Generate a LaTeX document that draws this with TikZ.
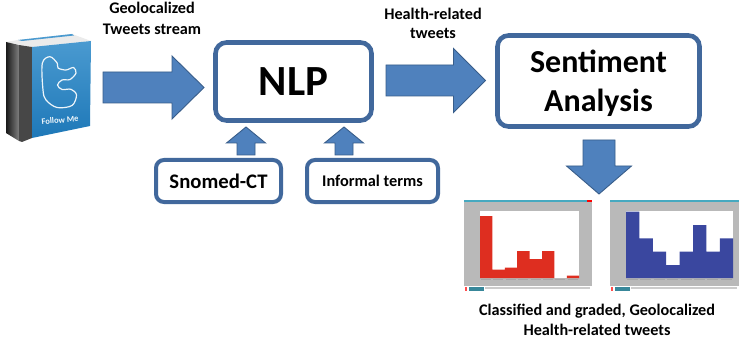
\documentclass[tikz,border=0pt]{standalone}
\usepackage{fontspec}
\setmainfont{Carlito}
\usetikzlibrary{calc}
\definecolor{arrowfill}{HTML}{4F81BD}
\definecolor{arrowedge}{HTML}{385D8A}
\definecolor{boxedge}{HTML}{41689C}
\definecolor{winGrey}{HTML}{B9B9B9}
\definecolor{winTeal}{HTML}{46A9C0}
\definecolor{barRed}{HTML}{DE2E20}
\definecolor{barBlue}{HTML}{3A479F}
\definecolor{coverLight}{HTML}{4A9AD0}
\definecolor{coverDark}{HTML}{1E78B8}
\tikzset{
  bigbox/.style={draw=boxedge,line width=4.6pt,fill=white,rounded corners=11pt,inner sep=0pt,outer sep=0pt,align=center},
  smallbox/.style={draw=boxedge,line width=4pt,fill=white,rounded corners=8pt,inner sep=0pt,outer sep=0pt,align=center},
  caption/.style={inner sep=0pt,anchor=base,font=\fontsize{16.2}{16.2}\selectfont\bfseries},
  blockarrow/.style={fill=arrowfill,draw=arrowedge,line width=0.9pt,line join=miter},
  anchorbox/.style={inner sep=0pt,outer sep=0pt},
  tickmark/.style={black!35,line width=0.8pt}
}
% start, tip, half shaft, head length, half head
\newcommand{\blockarrow}[5]{%
  \coordinate (hb) at ($(#2)!#4pt!(#1)$);
  \draw[blockarrow]
    ($(#1)!#3pt!90:(#2)$) -- ($(hb)!#3pt!-90:(#1)$) -- ($(hb)!#5pt!-90:(#1)$) -- (#2)
    -- ($(hb)!#5pt!90:(#1)$) -- ($(hb)!#3pt!90:(#1)$) -- ($(#1)!#3pt!-90:(#2)$) -- cycle;
}
% left, top, right, bottom of a chart window
\newcommand{\chartwindow}[4]{%
  \fill[winGrey] (#1,#2) rectangle (#3,#4);
  \fill[winTeal] (#1,#2) rectangle (#3,#2+2.4);
  \fill[white] (#1,#4-6) rectangle (#3,#4);
  \fill[winTeal!80!black] (#1+5,#4-5) rectangle (#1+20,#4-1.5);
  \fill[red!70!white] (#1+1,#4-5) rectangle (#1+3,#4-1.5);
  \fill[black!20] (#1+21,#4-5) rectangle (#3-2,#4-3.5);
}
\begin{document}
\begin{tikzpicture}[x=1pt,y=-1pt]
\useasboundingbox[fill=white] (0,0) rectangle (739,342);

% book
\node[anchorbox,minimum width=86pt,minimum height=108pt] (book) at (48.5,88) {};
\fill[black!8] (6,42) -- (18,40) -- (72,34) -- (91,41) -- (32,47) -- cycle;
\fill[coverLight] (18,40) -- (72,34) -- (74,35.5) -- (22,41) -- cycle;
\shade[left color=black!90,right color=black!50] (6,42) -- (19,45) -- (19,141) -- (6,133) -- cycle;
\fill[black!72] (19,45) -- (32,47) -- (32,138) -- (22,142) -- (19,141) -- cycle;
\shade[shading angle=150,top color=coverLight,bottom color=coverDark] (32,47) -- (91,41) -- (90,126) -- (32,138) -- cycle;
\draw[white!90!coverLight,line width=1.2pt,line join=round] plot[smooth cycle,tension=0.55] coordinates
  {(42.3,63.3) (50,56.7) (57.3,63.3) (58,68) (66,70) (73.5,67.5) (76,73) (70,79.5) (62,80) (57.5,85) (62,89.5) (71,89.3) (76.5,95) (72,105.5) (57,107.5) (46,100) (43,90)};
\node[anchorbox,text=white!90!coverLight,rotate=5,font=\fontsize{8.5}{8.5}\selectfont\bfseries] at (60,120) {Follow Me};

% main boxes
\node[bigbox,minimum width=156pt,minimum height=78pt,font=\fontsize{43}{43}\selectfont\bfseries] (nlp) at (293.5,81.5) {NLP};
\node[bigbox,minimum width=202pt,minimum height=91pt,font=\fontsize{32}{39}\selectfont\bfseries] (sent) at (598.5,81) {\rule{0pt}{27pt}Sentiment\\Analysis};
\node[smallbox,minimum width=125pt,minimum height=42pt,font=\fontsize{20.7}{20.7}\selectfont\bfseries] (snomed) at (218.5,181) {Snomed-CT};
\node[smallbox,minimum width=131pt,minimum height=42pt,font=\fontsize{16.3}{16.3}\selectfont\bfseries] (informal) at (372.5,181) {Informal terms};

% charts
\chartwindow{464}{200}{592}{292}
\fill[white] (480,211) rectangle (579,278);
\fill[barRed] (480,216) rectangle (492.4,278)
  (492.4,269.5) rectangle (504.8,278)
  (504.8,267.5) rectangle (517.2,278)
  (517.2,251) rectangle (529.6,278)
  (529.6,259) rectangle (542,278)
  (542,251) rectangle (554.4,278)
  (566.8,275.5) rectangle (579,278);
\fill[red] (587,200) rectangle (592,202.4);
\foreach \tx in {481,493.4,505.8,518.2,530.6,543,555.4,567.8}
  \draw[tickmark] (\tx,279.5) -- ++(10,0);
\node[anchorbox,minimum width=128pt,minimum height=92pt] (chartA) at (528,246) {};

\chartwindow{610}{200}{739}{292}
\fill[white] (626,211) rectangle (733,278);
\fill[barBlue] (626,211.7) rectangle (639.4,278)
  (639.4,238.3) rectangle (652.8,278)
  (652.8,251.7) rectangle (666.2,278)
  (666.2,265) rectangle (679.6,278)
  (679.6,251.7) rectangle (693,278)
  (693,225) rectangle (706.4,278)
  (706.4,251.7) rectangle (719.8,278)
  (719.8,238.3) rectangle (733,278);
\foreach \tx in {627,640.4,653.8,667.2,680.6,694,707.4,720.8}
  \draw[tickmark] (\tx,279.5) -- ++(11,0);
\node[anchorbox,minimum width=129pt,minimum height=92pt] (chartB) at (674.5,246) {};

% block connectors
\coordinate (a1s) at ($(book.east)+(11.5,-0.5)$);
\coordinate (a1t) at ($(nlp.west)+(-11.5,6)$);
\blockarrow{a1s}{a1t}{15.5}{32}{31.5}
\coordinate (a2s) at ($(nlp.east)+(14.5,-1)$);
\coordinate (a2t) at ($(sent.west)+(-12,-0.5)$);
\blockarrow{a2s}{a2t}{15.5}{32}{32}
\coordinate (a3b) at ($(snomed.north)+(27.5,-5)$);
\coordinate (a3t) at ($(nlp.south)+(-47.5,6.5)$);
\blockarrow{a3b}{a3t}{9}{16}{19.5}
\coordinate (a4b) at ($(informal.north)+(-28.5,-5)$);
\coordinate (a4t) at ($(nlp.south)+(50.5,6.5)$);
\blockarrow{a4b}{a4t}{9}{16}{19.5}
\coordinate (a5s) at ($(sent.south)+(0.5,13.5)$);
\coordinate (a5t) at ($(chartA.north east)!0.5!(chartB.north west)+(-2,-6)$);
\blockarrow{a5s}{a5t}{16}{28}{32.5}

% captions
\node[caption] (cap1) at (152,14) {Geolocalized};
\node[caption] (cap2) at (152,35) {Tweets stream};
\node[caption] (cap3) at (433,20) {Health-related};
\node[caption] (cap4) at (433,39) {tweets};
\node[caption] (cap5) at (597,315) {Classified and graded, Geolocalized};
\node[caption] (cap6) at (597,335) {Health-related tweets};
\end{tikzpicture}
\end{document}
